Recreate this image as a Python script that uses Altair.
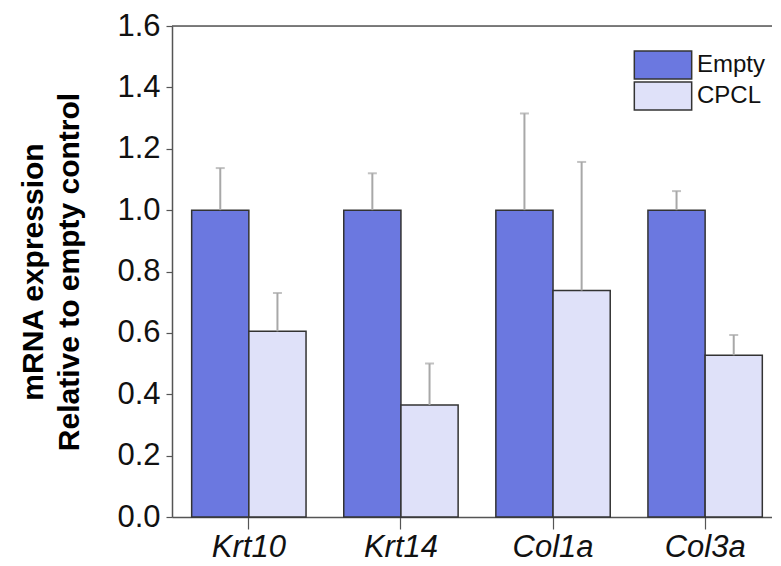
import altair as alt
import pandas as pd

genes = ["Krt10", "Krt14", "Col1a", "Col3a"]
groups = ["Empty", "CPCL"]
empty_mean = [1.0, 1.0, 1.0, 1.0]
empty_upper = [1.137, 1.12, 1.315, 1.062]
cpcl_mean = [0.605, 0.365, 0.738, 0.527]
cpcl_upper = [0.73, 0.50, 1.157, 0.593]
y_ticks = [0.0, 0.2, 0.4, 0.6, 0.8, 1.0, 1.2, 1.4, 1.6]

rows = []
for i, g in enumerate(genes):
    rows.append({"gene": g, "group": "Empty", "value": empty_mean[i], "upper": empty_upper[i]})
    rows.append({"gene": g, "group": "CPCL", "value": cpcl_mean[i], "upper": cpcl_upper[i]})
df = pd.DataFrame(rows)

FONT = "Liberation Sans"
AX = "#555555"

x_enc = alt.X(
    "gene:N", sort=genes, title=None,
    scale=alt.Scale(paddingInner=0.248, paddingOuter=0.0965, align=0.67),
    axis=alt.Axis(labelFontSize=31, labelFontStyle="italic", labelColor="#111111",
                  labelFont=FONT, tickSize=12, tickColor=AX, tickWidth=1.2,
                  domainColor=AX, domainWidth=1.5, labelPadding=3, labelAngle=0),
)
xo_enc = alt.XOffset("group:N", sort=groups, scale=alt.Scale(paddingInner=0, paddingOuter=0))
y_scale = alt.Scale(domain=[0, 1.6], nice=False, zero=True)

base = alt.Chart(df)

bars = base.mark_bar(stroke="#333333", strokeWidth=1.5).encode(
    x=x_enc,
    xOffset=xo_enc,
    y=alt.Y("value:Q", scale=y_scale,
            title=["mRNA expression", "Relative to empty control"],
            axis=alt.Axis(values=y_ticks, format=".1f", labelFontSize=31, labelFont=FONT,
                          labelColor="#111111", tickSize=6, tickColor=AX, tickWidth=1.2,
                          domainColor=AX, domainWidth=1.5, grid=False, labelPadding=6,
                          titleFont=FONT, titleFontSize=30, titleFontWeight="bold",
                          titleColor="#000000", titlePadding=32, titleLineHeight=36)),
    color=alt.Color("group:N", sort=groups,
                    scale=alt.Scale(domain=groups, range=["#6b78e0", "#dfe1f9"]),
                    legend=alt.Legend(title=None, orient="none", legendX=478, legendY=26,
                                      symbolType="M-2.39,-1.167H2.39V1.167H-2.39Z", symbolSize=576,
                                      symbolStrokeColor="#333333", symbolStrokeWidth=1.5,
                                      symbolOpacity=1, labelFontSize=24, labelFont=FONT,
                                      labelColor="#111111", labelOffset=21, rowPadding=-6)),
)

err = base.mark_rule(color="#a8a8a8", strokeWidth=2).encode(
    x=alt.X("gene:N", sort=genes),
    xOffset=alt.XOffset("group:N", sort=groups),
    y=alt.Y("value:Q", scale=y_scale),
    y2="upper:Q",
)

caps = base.mark_tick(color="#a8a8a8", thickness=2, size=9).encode(
    x=alt.X("gene:N", sort=genes),
    xOffset=alt.XOffset("group:N", sort=groups),
    y=alt.Y("upper:Q", scale=y_scale),
)

top_line = alt.Chart(pd.DataFrame({"top": [1.6]})).mark_rule(color=AX, strokeWidth=1.5).encode(
    y=alt.Y("top:Q", scale=y_scale)
)

chart = alt.layer(bars, err, caps, top_line).properties(
    width=600, height=491,
    autosize=alt.AutoSizeParams(type="none"),
    padding={"left": 164, "top": 18, "right": 0, "bottom": 45},
).configure_view(stroke=None).configure(background="white")

chart.save("out.html", embed_options={"renderer": "svg", "actions": False})
